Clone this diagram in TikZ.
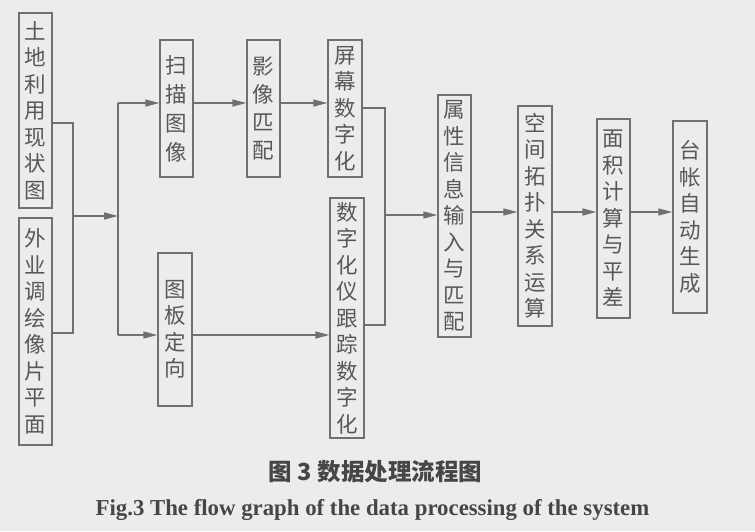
\documentclass[tikz,border=0pt]{standalone}
\usepackage{fontspec}
\setmainfont{Liberation Serif}
\newfontfamily\cjk{Noto Sans CJK SC}
\usetikzlibrary{arrows.meta}
\definecolor{bgcol}{RGB}{236,236,236}
\definecolor{lncol}{RGB}{112,112,112}
\definecolor{txcol}{RGB}{88,88,88}
\definecolor{capcol}{RGB}{70,70,70}
\begin{document}
\begin{tikzpicture}[x=1pt,y=-1pt,
  box/.style={draw=lncol, line width=1.3pt, inner sep=0pt, minimum width=33pt,
    align=center, text=txcol, font=\cjk\fontsize{21.5pt}{26.5pt}\selectfont},
  wire/.style={draw=lncol, line width=1.3pt},
  arr/.style={wire, -{Triangle[length=14pt,width=7pt]}}]
\fill[bgcol] (0,0) rectangle (755,531);
\useasboundingbox (0,0) rectangle (755,531);

% boxes
\node[box, minimum height=195pt] (A) at (35.5,110.5) {土\\地\\利\\用\\现\\状\\图};
\node[box, minimum height=227pt] (B) at (35.5,331.5) {外\\业\\调\\绘\\像\\片\\平\\面};
\node[box, minimum height=137pt, font=\cjk\fontsize{21.5pt}{29pt}\selectfont] (C) at (176.5,108.5) {扫\\描\\图\\像};
\node[box, minimum width=34pt, minimum height=153pt] (D) at (175,329.5) {图\\板\\定\\向};
\node[box, minimum height=137pt, font=\cjk\fontsize{21.5pt}{28pt}\selectfont] (E) at (263.5,108.5) {影\\像\\匹\\配};
\node[box, minimum width=34pt, minimum height=137pt] (F) at (345,108.5) {屏\\幕\\数\\字\\化};
\node[box, minimum width=34pt, minimum height=240pt] (G) at (347,318) {数\\字\\化\\仪\\跟\\踪\\数\\字\\化};
\node[box, minimum height=242pt] (H) at (454.5,216) {属\\性\\信\\息\\输\\入\\与\\匹\\配};
\node[box, minimum width=34pt, minimum height=220pt] (I) at (535,216) {空\\间\\拓\\扑\\关\\系\\运\\算};
\node[box, minimum height=199pt] (J) at (613.5,218.5) {面\\积\\计\\算\\与\\平\\差};
\node[box, minimum width=34pt, minimum height=192pt] (K) at (690,217) {台\\帐\\自\\动\\生\\成};

% junction coordinates
\coordinate (ja) at (73,123);
\coordinate (jm) at (73,216);
\coordinate (jb) at (73,333);
\coordinate (kt) at (118,103);
\coordinate (km) at (118,216);
\coordinate (kb) at (118,335);
\coordinate (ma) at (385,108);
\coordinate (mm) at (385,215);
\coordinate (mb) at (385,325);
\coordinate (row) at (0,212);

% left bracket
\draw[wire] (A.east |- ja) -- (ja) -- (jb) -- (B.east |- jb);
\draw[arr] (jm) -- (km);
\draw[wire] (kt) -- (kb);
\draw[arr] (kt) -- (C.west |- kt);
\draw[arr] (kb) -- (D.west |- kb);
\draw[arr] (C.east |- kt) -- (E.west |- kt);
\draw[arr] (E.east |- kt) -- (F.west |- kt);
\draw[arr] (D.east |- kb) -- (G.west |- kb);

% merge bracket
\draw[wire] (F.east |- ma) -- (ma) -- (mb) -- (G.east |- mb);
\draw[arr] (mm) -- (H.west |- mm);
\draw[arr] (H.east |- row) -- (I.west |- row);
\draw[arr] (I.east |- row) -- (J.west |- row);
\draw[arr] (J.east |- row) -- (K.west |- row);

% captions
\node[font=\cjk\bfseries\fontsize{23.5pt}{25pt}\selectfont, text=capcol] (cap1) at (375.5,472) {图 3 数据处理流程图};
\node[font=\bfseries\fontsize{22.8pt}{25pt}\selectfont, text=capcol, anchor=base] (cap2) at (372.5,515) {Fig.3 The flow graph of the data processing of the system};
\end{tikzpicture}
\end{document}
